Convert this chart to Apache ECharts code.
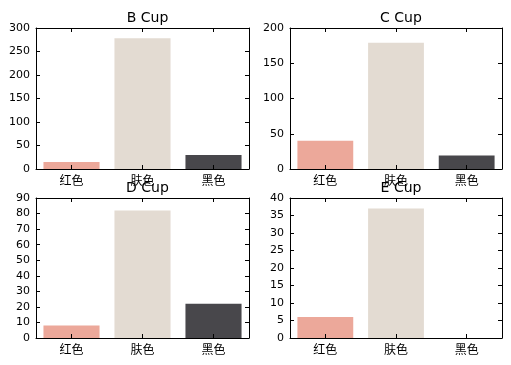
<!DOCTYPE html>
<html>
<head>
<meta charset="utf-8">
<script src="https://cdn.jsdelivr.net/npm/echarts@6/dist/echarts.min.js"></script>
<style>
html,body{margin:0;padding:0;background:#fff;}
#chart{width:511px;height:365px;}
</style>
</head>
<body>
<div id="chart"></div>
<script>
const categories = ['红色', '肤色', '黑色'];
const bCup = [15, 278, 30];
const cCup = [40, 179, 19];
const dCup = [8, 82, 22];
const eCup = [6, 37, 0];
const titles = ['B Cup', 'C Cup', 'D Cup', 'E Cup'];
const yMax = [300, 200, 90, 40];
const yInterval = [50, 50, 10, 5];
const barColors = ['#eca89a', '#e3dbd2', '#48474b'];

const seriesData = [bCup, cCup, dCup, eCup];
const grids = [
  {left: 36, top: 28, width: 213, height: 141},
  {left: 290, top: 28, width: 212, height: 141},
  {left: 36, top: 198, width: 213, height: 140},
  {left: 290, top: 198, width: 212, height: 140}
];

const lineStyle = {color: '#000', width: 1};
const tickStyle = {show: true, inside: true, length: 4, lineStyle: {color: '#000', width: 1}};
const labelFont = {color: '#000', fontSize: 11, fontFamily: 'DejaVu Sans'};

const xAxes = [], yAxes = [], series = [], titleOpts = [];
grids.forEach((g, i) => {
  xAxes.push({
    gridIndex: i, type: 'category', data: categories, position: 'bottom', z: 10,
    axisLine: {show: true, onZero: false, lineStyle: lineStyle},
    axisTick: Object.assign({alignWithLabel: true}, tickStyle),
    axisLabel: {margin: 5, color: '#000', fontSize: 12, fontFamily: 'Noto Sans CJK SC'},
    splitLine: {show: false}
  });
  xAxes.push({
    gridIndex: i, type: 'category', data: categories, position: 'top', z: 10,
    axisLine: {show: true, onZero: false, lineStyle: lineStyle},
    axisTick: Object.assign({alignWithLabel: true}, tickStyle),
    axisLabel: {show: false},
    splitLine: {show: false}
  });
  yAxes.push({
    gridIndex: i, type: 'value', position: 'left', min: 0, max: yMax[i], interval: yInterval[i], z: 10,
    axisLine: {show: true, onZero: false, lineStyle: lineStyle},
    axisTick: tickStyle,
    axisLabel: Object.assign({margin: 6}, labelFont),
    splitLine: {show: false}
  });
  yAxes.push({
    gridIndex: i, type: 'value', position: 'right', min: 0, max: yMax[i], interval: yInterval[i], z: 10,
    axisLine: {show: true, onZero: false, lineStyle: lineStyle},
    axisTick: tickStyle,
    axisLabel: {show: false},
    splitLine: {show: false}
  });
  series.push({
    type: 'bar', xAxisIndex: i * 2, yAxisIndex: i * 2, barWidth: '79%',
    data: seriesData[i].map((v, k) => ({value: v, itemStyle: {color: barColors[k]}})),
    animation: false
  });
  titleOpts.push({
    text: titles[i], left: g.left + g.width / 2, top: g.top - 22, textAlign: 'center',
    textStyle: {color: '#000', fontSize: 14, fontWeight: 'normal', fontFamily: 'DejaVu Sans'}
  });
});

const chart = echarts.init(document.getElementById('chart'), null, {renderer: 'canvas'});
chart.setOption({
  animation: false,
  backgroundColor: '#fff',
  title: titleOpts,
  grid: grids,
  xAxis: xAxes,
  yAxis: yAxes,
  series: series
});
</script>
</body>
</html>
